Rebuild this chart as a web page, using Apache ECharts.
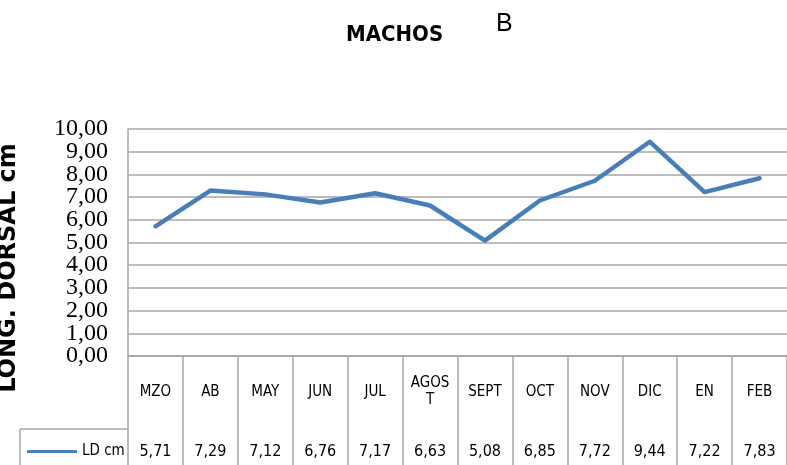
<!DOCTYPE html>
<html>
<head>
<meta charset="utf-8">
<script src="https://cdn.jsdelivr.net/npm/echarts@6/dist/echarts.min.js"></script>
<style>
html,body{margin:0;padding:0;background:#fff;overflow:hidden;}
#chart{width:787px;height:465px;}
</style>
</head>
<body>
<div id="chart"></div>
<script>
const categories = ['MZO','AB','MAY','JUN','JUL','AGOST','SEPT','OCT','NOV','DIC','EN','FEB'];
const ldValues = [5.71, 7.29, 7.12, 6.76, 7.17, 6.63, 5.08, 6.85, 7.72, 9.44, 7.22, 7.83];
const seriesName = 'LD cm';
const titleText = 'MACHOS';
const subLetter = 'B';
const yAxisTitle = 'LONG. DORSAL cm';

const fmt = v => v.toFixed(2).replace('.', ',');
const narrow = "'Liberation Sans Narrow','DejaVu Sans Condensed','Liberation Sans',sans-serif";
const gridColor = '#a6a6a6';
const yLabelStyle = {margin: 20, fontFamily: "'Liberation Serif', serif", fontSize: 24, color: '#000'};

const chart = echarts.init(document.getElementById('chart'));
chart.setOption({
  animation: false,
  backgroundColor: '#fff',
  title: {
    text: titleText,
    left: 341, top: 19,
    textStyle: {fontFamily: narrow, fontWeight: 'bold', fontSize: 22, color: '#000'}
  },
  legend: {
    left: 22, top: 439,
    icon: 'rect',
    itemWidth: 50, itemHeight: 3, itemGap: 5,
    textStyle: {fontFamily: narrow, fontSize: 15, color: '#000'},
    data: [seriesName]
  },
  graphic: [
    {type: 'text', left: 496, top: 12,
     style: {text: subLetter, font: '25px "Liberation Sans", sans-serif', fill: '#000'}},
    {type: 'text', x: 9, y: 268, rotation: Math.PI / 2,
     style: {text: yAxisTitle, font: 'bold 24px "DejaVu Sans", sans-serif', fill: '#000',
             align: 'center', verticalAlign: 'middle'}},
    {type: 'line', shape: {x1: 20, y1: 429, x2: 128, y2: 429}, style: {stroke: gridColor, lineWidth: 1.5}},
    {type: 'line', shape: {x1: 20, y1: 429, x2: 20, y2: 465}, style: {stroke: gridColor, lineWidth: 1.5}}
  ],
  grid: {left: 128, right: -7, top: 129, bottom: 109, containLabel: false},
  xAxis: [
    {
      type: 'category', data: categories, boundaryGap: true, position: 'bottom',
      axisLine: {show: true, lineStyle: {color: gridColor, width: 1.5}},
      axisTick: {show: true, length: 110, lineStyle: {color: gridColor, width: 1.5}},
      axisLabel: {
        interval: 0, margin: 36, verticalAlign: 'middle', lineHeight: 17,
        fontFamily: narrow, fontSize: 15, color: '#000',
        formatter: v => v.length > 4 ? v.slice(0, 4) + '\n' + v.slice(4) : v
      }
    },
    {
      type: 'category', data: categories, boundaryGap: true, position: 'bottom', offset: 73,
      axisLine: {show: true, lineStyle: {color: gridColor, width: 1.5}},
      axisTick: {show: false},
      axisLabel: {
        interval: 0, margin: 23, verticalAlign: 'middle',
        fontFamily: narrow, fontSize: 16, color: '#000',
        formatter: (v, i) => fmt(ldValues[i])
      }
    }
  ],
  yAxis: [
    {
      type: 'value', min: 0, max: 10, interval: 1, position: 'left',
      axisLine: {show: true, lineStyle: {color: gridColor, width: 1.5}},
      axisTick: {show: false},
      splitLine: {show: true, lineStyle: {color: gridColor, width: 1.5}},
      axisLabel: Object.assign({}, yLabelStyle, {
        showMinLabel: true, showMaxLabel: true,
        formatter: v => (Math.round(v) % 2 === 0 ? fmt(v) : '')
      })
    },
    {
      type: 'value', min: 0, max: 10, interval: 1, position: 'left',
      axisLine: {show: false}, axisTick: {show: false}, splitLine: {show: false},
      axisLabel: Object.assign({}, yLabelStyle, {
        showMinLabel: false, showMaxLabel: false,
        formatter: v => (Math.round(v) % 2 === 1 ? fmt(v) : '')
      })
    }
  ],
  series: [{
    name: seriesName, type: 'line', data: ldValues, xAxisIndex: 0, yAxisIndex: 0,
    showSymbol: false, symbol: 'none',
    lineStyle: {color: '#4a7ebb', width: 4.5, join: 'round', cap: 'round'},
    itemStyle: {color: '#4a7ebb'}
  }]
});
</script>
</body>
</html>
